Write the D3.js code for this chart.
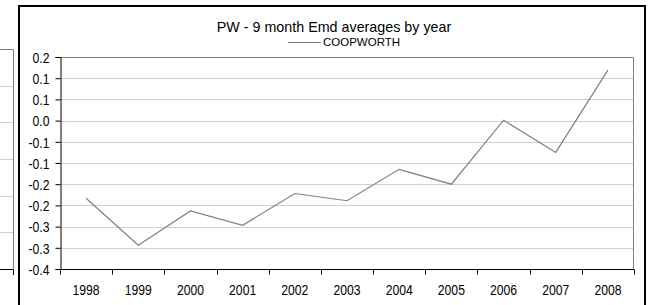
<!DOCTYPE html>
<html>
<head>
<meta charset="utf-8">
<script src="https://cdn.jsdelivr.net/npm/d3@7"></script>
<style>
  html, body { margin: 0; padding: 0; background: #fff; }
  svg { display: block; }
</style>
</head>
<body>
<div id="chart"></div>
<script>
// chart data
var years = ["1998", "1999", "2000", "2001", "2002", "2003", "2004", "2005", "2006", "2007", "2008"];
var coopworth = [-0.183, -0.294, -0.213, -0.247, -0.172, -0.189, -0.115, -0.150, 0.001, -0.075, 0.119];
var yTicks = [0.15, 0.1, 0.05, 0, -0.05, -0.1, -0.15, -0.2, -0.25, -0.3, -0.35];
var yTickLabels = ["0.2", "0.1", "0.1", "0.0", "-0.1", "-0.1", "-0.2", "-0.2", "-0.3", "-0.3", "-0.4"];
var seriesName = "COOPWORTH";
var title = "PW - 9 month Emd averages by year";

var width = 652, height = 305;
var mainFont = "'Liberation Sans', Arial, sans-serif";
var narrow = 0.84; // tick labels are a condensed face in the original

var svg = d3.select('#chart')
    .append('svg')
    .attr('width', width)
    .attr('height', height);

// partial neighbouring chart on the far left (only its edge is visible)
var leftY = d3.scaleLinear().domain([0, 6]).range([269, 49]);
var leftG = svg.append('g');
leftG.selectAll('line.grid')
    .data(d3.range(1, 6))
    .enter()
    .append('line')
    .attr('x1', 0).attr('x2', 13)
    .attr('y1', function (d) { return Math.round(leftY(d)) + 0.5; })
    .attr('y2', function (d) { return Math.round(leftY(d)) + 0.5; })
    .attr('stroke', '#d0d0d0');
leftG.append('path')
    .attr('d', 'M0,49.5H13.5V269')
    .attr('fill', 'none')
    .attr('stroke', '#808080');
leftG.append('path')
    .attr('d', 'M0,269.5H13.5V275')
    .attr('fill', 'none')
    .attr('stroke', '#000');

// outer frame of this chart
svg.append('path')
    .attr('d', 'M19,305V6H645V305')
    .attr('fill', 'none')
    .attr('stroke', '#000')
    .attr('stroke-width', 2);

// plot area
var plot = { left: 60, right: 633, top: 57, bottom: 269 };

var x = d3.scaleBand()
    .domain(years)
    .range([plot.left, plot.right + 1]);

var y = d3.scaleLinear()
    .domain([-0.35, 0.15])
    .range([plot.bottom, plot.top]);

// gridlines
svg.append('g')
    .selectAll('line')
    .data(yTicks.slice(1, -1))
    .enter()
    .append('line')
    .attr('x1', plot.left).attr('x2', plot.right)
    .attr('y1', function (d) { return Math.round(y(d)) + 0.5; })
    .attr('y2', function (d) { return Math.round(y(d)) + 0.5; })
    .attr('stroke', '#d0d0d0');

// plot border (top and right)
svg.append('path')
    .attr('d', 'M' + plot.left + ',' + (plot.top + 0.5) + 'H' + (plot.right + 0.5) + 'V' + plot.bottom)
    .attr('fill', 'none')
    .attr('stroke', '#808080');

// series line
var line = d3.line()
    .x(function (d, i) { return x(years[i]) + x.bandwidth() / 2; })
    .y(function (d) { return y(d); });

svg.append('path')
    .datum(coopworth)
    .attr('d', line)
    .attr('fill', 'none')
    .attr('stroke', '#7f7f7f')
    .attr('stroke-width', 1.2);

// y axis
var yAxis = d3.axisLeft(y)
    .tickValues(yTicks)
    .tickSize(5)
    .tickPadding(6)
    .tickFormat(function (d, i) { return yTickLabels[i]; });

var yg = svg.append('g')
    .attr('transform', 'translate(' + (plot.left + 0.5) + ',0)')
    .call(yAxis);
yg.select('.domain').attr('stroke', '#000');
yg.selectAll('.tick line').attr('stroke', '#000');
yg.selectAll('.tick text')
    .attr('x', 0)
    .attr('dy', '0.36em')
    .attr('transform', 'translate(-11,0) scale(' + narrow + ',1)')
    .attr('font-family', mainFont)
    .attr('font-size', 14.5)
    .attr('fill', '#000');

// x axis, ticks between categories
var xAxis = d3.axisBottom(x).tickSize(0).tickPadding(0);
var xg = svg.append('g')
    .attr('transform', 'translate(0,' + (plot.bottom + 0.5) + ')')
    .call(xAxis);
xg.select('.domain').attr('d', 'M' + plot.left + ',0H' + (plot.right + 1)).attr('stroke', '#000');
xg.selectAll('.tick text')
    .attr('y', 26)
    .attr('dy', 0)
    .attr('transform', 'scale(' + narrow + ',1)')
    .attr('font-family', mainFont)
    .attr('font-size', 14.5)
    .attr('fill', '#000');
xg.selectAll('line.sep')
    .data(years.concat(['end']))
    .enter()
    .append('line')
    .attr('class', 'sep')
    .attr('x1', function (d, i) { return Math.round(plot.left + i * x.step()) + 0.5; })
    .attr('x2', function (d, i) { return Math.round(plot.left + i * x.step()) + 0.5; })
    .attr('y1', 0).attr('y2', 5)
    .attr('stroke', '#000');

// title and legend block
svg.append('rect')
    .attr('x', 144).attr('y', 14)
    .attr('width', 398).attr('height', 42)
    .attr('fill', '#fff');

svg.append('text')
    .attr('x', 334).attr('y', 32)
    .attr('text-anchor', 'middle')
    .attr('font-family', mainFont)
    .attr('font-size', 14.3)
    .attr('fill', '#000')
    .text(title);

svg.append('line')
    .attr('x1', 288).attr('x2', 321)
    .attr('y1', 42.5).attr('y2', 42.5)
    .attr('stroke', '#7f7f7f')
    .attr('stroke-width', 1.2);

svg.append('text')
    .attr('x', 323).attr('y', 46)
    .attr('font-family', mainFont)
    .attr('font-size', 11.5)
    .attr('fill', '#000')
    .text(seriesName);
</script>
</body>
</html>
